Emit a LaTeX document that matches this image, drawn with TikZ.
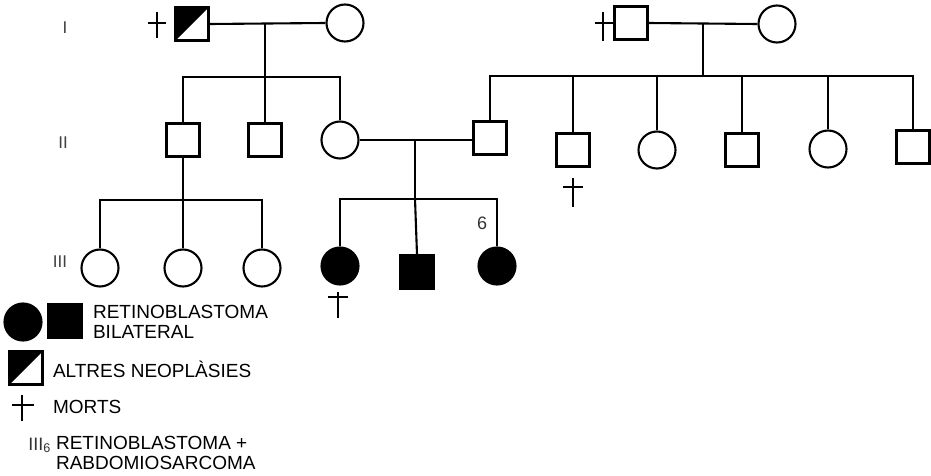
\documentclass[tikz,border=0pt]{standalone}
\usepackage{fontspec}
\setmainfont{Liberation Sans}
\begin{document}
\begin{tikzpicture}[x=1pt,y=-1pt,
  line width=2.1pt,
  male/.style={draw, rectangle, minimum size=33pt, inner sep=0pt},
  female/.style={draw, circle, minimum size=37pt, inner sep=0pt},
  affected/.style={fill=black},
  halfaff/.style={path picture={\fill (path picture bounding box.north west) -- (path picture bounding box.north east) -- (path picture bounding box.south west) -- cycle;}},
  gen/.style={font=\fontsize{17}{17}\selectfont, inner sep=0pt, text=black!75},
  legtext/.style={font=\fontsize{19}{20}\selectfont, inner sep=0pt, anchor=west, align=left},
  crossmark/.style={line width=1.3pt}]
\useasboundingbox (0,0) rectangle (931,476);
\fill[white] (0,0) rectangle (931,476);

% generation labels
\node[gen] (gI) at (65,28) {I};
\node[gen] (gII) at (63,143) {II};
\node[gen] (gIII) at (60,262) {III};

% Generation I, left
\node[male, halfaff] (I1) at (192,24) {};
\node[female] (I2) at (345,23) {};
% Generation I, right
\node[male] (I3) at (631,23) {};
\node[female] (I4) at (777,24) {};

% Generation II
\node[male] (II1) at (183,140) {};
\node[male] (II2) at (265,140) {};
\node[female] (II3) at (340,140) {};
\node[male] (II4) at (490,138) {};
\node[male] (II5) at (573,150) {};
\node[female] (II6) at (657,150) {};
\node[male] (II7) at (742,150) {};
\node[female] (II8) at (828,149) {};
\node[male] (II9) at (913,147) {};

% Generation III
\node[female] (III1) at (100,268) {};
\node[female] (III2) at (183,268) {};
\node[female] (III3) at (262,268) {};
\node[female, affected] (III4) at (340,266) {};
\node[male, affected] (III5) at (417,272) {};
\node[female, affected] (III6) at (497,266) {};
\node[font=\fontsize{18}{18}\selectfont, inner sep=0pt, text=black!80] (n6) at (482,223) {6};

% marriages and descents
\coordinate (m1) at (265,23);
\coordinate (s1) at (265,77);
\draw (I1.east) -- (I2.west);
\draw (m1) -- (s1);
\draw (II1.north) |- (s1) -| (II3.north);
\draw (s1) -- (II2.north);

\coordinate (m2) at (703,23);
\coordinate (s2) at (703,76);
\draw (I3.east) -- (I4.west);
\draw (m2) -- (s2);
\draw (II4.north) |- (s2) -| (II9.north);
\draw (II5.north) -- (II5.north |- s2);
\draw (II6.north) -- (II6.north |- s2);
\draw (II7.north) -- (II7.north |- s2);
\draw (II8.north) -- (II8.north |- s2);

\coordinate (m3) at (415,140);
\coordinate (s3) at (415,199);
\draw (II3.east) -- (II4.west |- II3.east);
\draw (m3) -- (s3);
\draw (III4.north) |- (s3) -| (III6.north);
\draw (s3) -- (III5.north);

\coordinate (s4) at (183,200);
\draw (II1.south) -- (s4);
\draw (III1.north) |- (s4) -| (III3.north);
\draw (s4) -- (III2.north);

% death crosses
\draw[crossmark] (157,12) -- (157,38) (148,23) -- (166,23);
\draw[crossmark] (603,12) -- (603,41) (595,23) -- (613,23);
\draw[crossmark] (573,178) -- (573,207) (563,187) -- (583,187);
\draw[crossmark] (338,292) -- (338,318) (328,297) -- (348,297);

% legend
\node[female, affected] (Lc) at (23,322) {};
\node[male, affected] (Ls) at (65,321) {};
\node[legtext] (Lt1) at (92,322) {RETINOBLASTOMA\\BILATERAL};
\node[male, halfaff] (Lh) at (26,368) {};
\node[legtext] (Lt2) at (52,369) {ALTRES NEOPLÀSIES};
\draw[crossmark] (22,395) -- (22,421) (12,405) -- (34,405);
\node[legtext] (Lt3) at (52,407) {MORTS};
\node[font=\fontsize{18}{18}\selectfont, inner sep=0pt, anchor=base east, text=black!80] (Lt4) at (52,450) {III\textsubscript{6}};
\node[legtext] (Lt5) at (55,453) {RETINOBLASTOMA +\\RABDOMIOSARCOMA};
\end{tikzpicture}
\end{document}
